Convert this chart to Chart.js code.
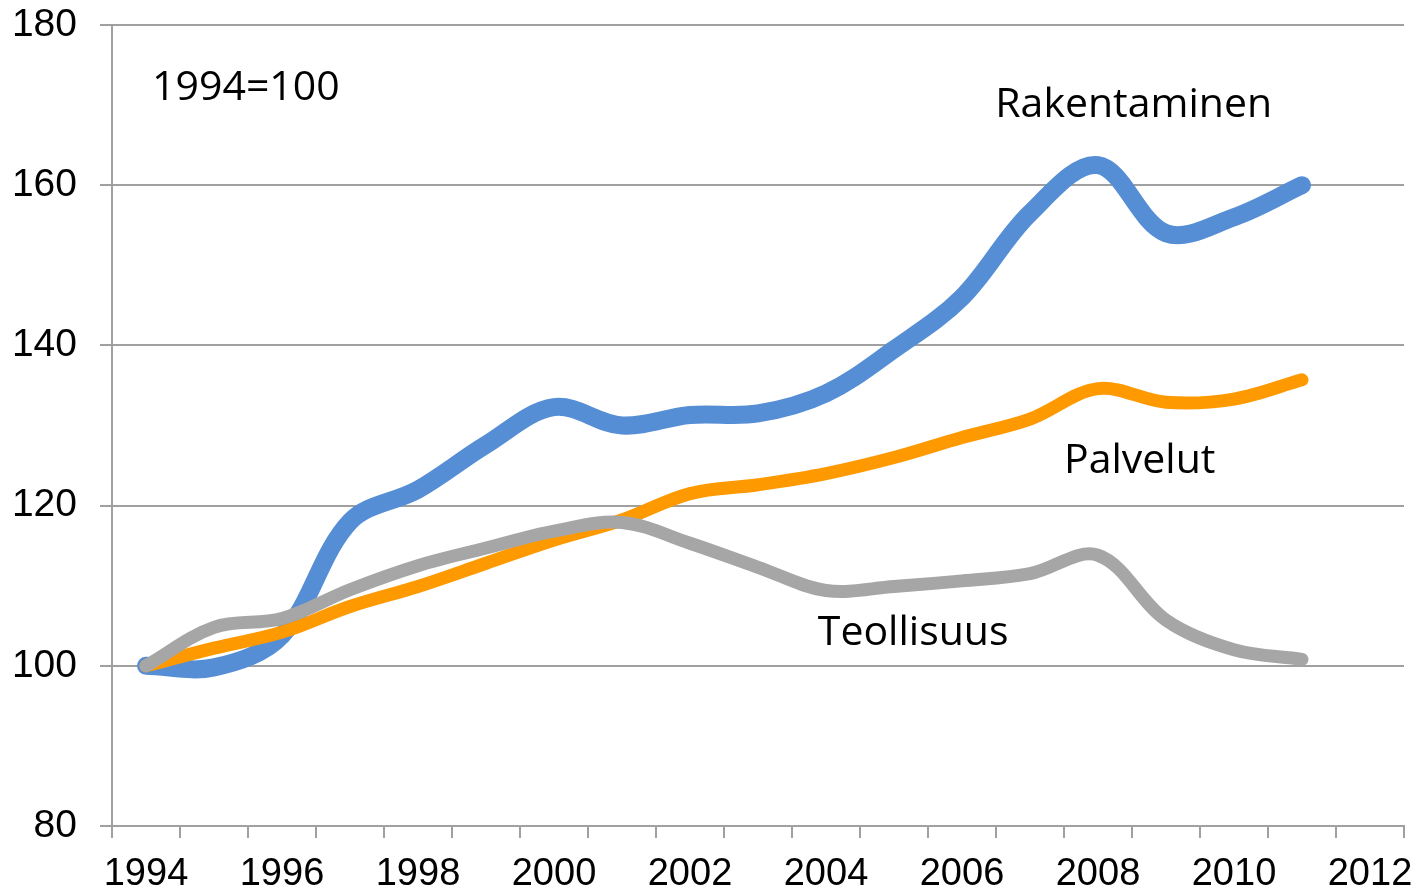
<!DOCTYPE html>
<html>
<head>
<meta charset="utf-8">
<script src="https://cdn.jsdelivr.net/npm/chart.js@4/dist/chart.umd.min.js"></script>
<style>
  body { margin: 0; background: #fff; }
  #wrap { width: 1421px; height: 891px; }
</style>
</head>
<body>
<div id="wrap"><canvas id="myChart" width="1421" height="891"></canvas></div>
<script>
const years = ['1994', '1995', '1996', '1997', '1998', '1999', '2000', '2001', '2002', '2003',
  '2004', '2005', '2006', '2007', '2008', '2009', '2010', '2011', '2012'];

const rakentaminen = [100, 99.8, 103.8, 118, 122, 127.6, 132.3, 130, 131.3, 131.5,
  134, 139.5, 146, 156.5, 162.5, 154, 156, 160];
const palvelut = [100, 102.2, 104.2, 107.4, 109.9, 112.8, 115.7, 118.2, 121.5, 122.6,
  124, 126, 128.5, 130.8, 134.6, 132.9, 133.3, 135.7];
const teollisuus = [100, 104.8, 105.9, 109.5, 112.5, 114.7, 116.8, 117.9, 115.3, 112.3,
  109.4, 109.9, 110.6, 111.5, 113.8, 105.7, 102, 100.8];

// text labels inside the plot: [text, category index, value (baseline)]
const notes = [
  ['1994=100', 0.09, 170.6],
  ['Rakentaminen', 12.49, 168.5],
  ['Palvelut', 13.5, 124.1],
  ['Teollisuus', 9.88, 102.6]
];

const gridColor = '#A0A0A0';

const notePlugin = {
  id: 'notes',
  afterDatasetsDraw(chart) {
    const c = chart.ctx;
    const xs = chart.scales.x;
    const ys = chart.scales.y;
    c.save();
    c.fillStyle = '#000';
    c.font = '41px "Open Sans", sans-serif';
    c.textAlign = 'left';
    c.textBaseline = 'alphabetic';
    notes.forEach(n => {
      c.fillText(n[0], xs.getPixelForValue(n[1]), ys.getPixelForValue(n[2]));
    });
    c.restore();
  }
};

const ctx = document.getElementById('myChart').getContext('2d');

function line(label, values, color, width, order) {
  return {
    label: label,
    data: values,
    borderColor: color,
    backgroundColor: color,
    borderWidth: width,
    borderCapStyle: 'round',
    borderJoinStyle: 'round',
    pointRadius: 0,
    tension: 0.35,
    fill: false,
    order: order
  };
}

const myChart = new Chart(ctx, {
  type: 'line',
  data: {
    labels: years,
    datasets: [
      line('Rakentaminen', rakentaminen, '#558ED5', 18, 3),
      line('Palvelut', palvelut, '#FF9900', 13, 2),
      line('Teollisuus', teollisuus, '#A6A6A6', 13, 1)
    ]
  },
  options: {
    responsive: false,
    animation: false,
    layout: { padding: { top: 25, right: 17, left: 0, bottom: 0 } },
    plugins: {
      legend: { display: false },
      tooltip: { enabled: false }
    },
    scales: {
      x: {
        type: 'category',
        offset: true,
        afterFit: s => {
          s.height = 65;
          s.paddingLeft = 0;
          s.paddingRight = 0;
        },
        border: { color: gridColor, width: 2 },
        grid: {
          offset: true,
          drawOnChartArea: false,
          color: gridColor,
          lineWidth: 2,
          tickLength: 12
        },
        ticks: {
          autoSkip: false,
          maxRotation: 0,
          padding: 14,
          color: '#000',
          font: { family: '"Liberation Sans", Arial, sans-serif', size: 38 },
          callback: function(value, index) { return index % 2 === 0 ? years[index] : ''; }
        }
      },
      y: {
        min: 80,
        max: 180,
        afterFit: s => {
          s.width = 112;
          s.paddingTop = 0;
          s.paddingBottom = 0;
        },
        border: { color: gridColor, width: 2 },
        grid: {
          color: gridColor,
          lineWidth: 2,
          tickLength: 12
        },
        ticks: {
          stepSize: 20,
          padding: 23,
          color: '#000',
          font: { family: '"Liberation Sans", Arial, sans-serif', size: 39 }
        }
      }
    }
  },
  plugins: [notePlugin]
});
</script>
</body>
</html>
